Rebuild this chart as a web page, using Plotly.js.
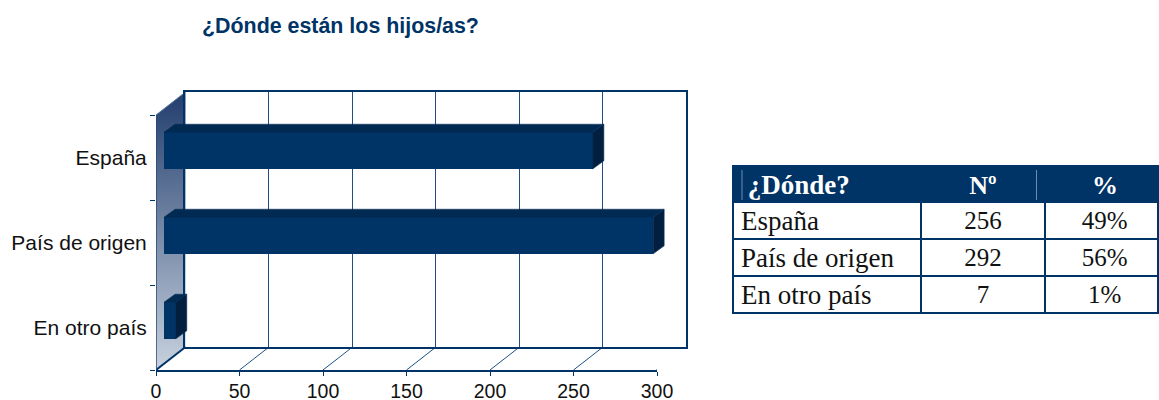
<!DOCTYPE html>
<html><head><meta charset="utf-8">
<script src="https://cdn.plot.ly/plotly-3.0.1.min.js"></script>
<style>html,body{margin:0;padding:0;background:#fff}</style></head>
<body><div id="chart" style="width:1159px;height:400px"></div>
<script>
const categories = ["España", "País de origen", "En otro país"];
const counts = [256, 292, 7];
const percents = ["49%", "56%", "1%"];
const xTicks = [0, 50, 100, 150, 200, 250, 300];
const tableHeader = ["¿Dónde?", "Nº", "%"];
const chartTitle = "¿Dónde están los hijos/as?";

const NAVY = "#003366", W = 1159, H = 400;
const dx = p => [p[0] / W, p[1] / W];
const dy = p => [1 - p[1] / H, 1 - p[0] / H];
const yIdx = categories.map((_, i) => i);
const yRange = [2.5, -0.5];
const PXU = 501 / 300, BXU = 502.5 / 300, PYU = 85;   // px per data unit
const wallDx = 29.5 / PXU, wallDy = 23 / PYU;
const barDx = 11 / BXU, barDy = 8 / PYU, barW = 36.6 / PYU;

const traces = [];
const guide = {type:"scatter", mode:"lines", xaxis:"x", yaxis:"y", cliponaxis:false, hoverinfo:"skip", showlegend:false};
// left wall
traces.push(Object.assign({}, guide, {
  x:[0, wallDx, wallDx, 0, 0], y:[-0.5, -0.5 - wallDy, 2.5 - wallDy, 2.5, -0.5],
  fill:"toself", line:{width:0, color:"rgba(0,0,0,0)"},
  fillgradient:{type:"vertical", colorscale:[[0,"#c8d2df"],[1,"#223e6e"]]}}));
// floor diagonals
const dgx = [], dgy = [];
xTicks.slice(1, -1).forEach(v => { dgx.push(v, v + wallDx, null); dgy.push(2.5, 2.5 - wallDy, null); });
traces.push(Object.assign({}, guide, {x:dgx, y:dgy, line:{color:"#1d4f86", width:1}}));
// thick floor edges
[0, 300].forEach(v => traces.push(Object.assign({}, guide, {
  x:[v, v + wallDx], y:[2.5, 2.5 - wallDy], line:{color:NAVY, width:2}})));
// wall top and front edges
traces.push(Object.assign({}, guide, {x:[0, wallDx], y:[-0.5, -0.5 - wallDy], line:{color:"#5b7aa3", width:1}}));
traces.push(Object.assign({}, guide, {x:[0, 0], y:[-0.5, 2.5], line:{color:"#2a4a78", width:1.5}}));
// back wall (only drives grid + frame)
traces.push({type:"scatter", mode:"none", xaxis:"x2", yaxis:"y2", x:[0], y:[0], hoverinfo:"skip", showlegend:false});
// bar front faces
traces.push({type:"bar", orientation:"h", xaxis:"x3", yaxis:"y3", x:counts, y:yIdx, width:barW,
  marker:{color:NAVY, line:{width:0}}, hoverinfo:"skip", showlegend:false});
// bar top and side faces
counts.forEach((v, i) => {
  const t = i - barW / 2, b = i + barW / 2;
  traces.push({type:"scatter", mode:"lines", xaxis:"x3", yaxis:"y3", cliponaxis:false, fill:"toself",
    x:[0, v, v + barDx, barDx, 0], y:[t, t, t - barDy, t - barDy, t],
    fillcolor:"#012a52", line:{color:"#012a52", width:0.5}, hoverinfo:"skip", showlegend:false});
  traces.push({type:"scatter", mode:"lines", xaxis:"x3", yaxis:"y3", cliponaxis:false, fill:"toself",
    x:[v, v + barDx, v + barDx, v, v], y:[t, t - barDy, b - barDy, b, t],
    fillcolor:"#021f3f", line:{color:"#06305c", width:0.7}, hoverinfo:"skip", showlegend:false});
});
// table
const serif = "Liberation Serif, serif";
traces.push({type:"table", domain:{x:dx([733, 1159]), y:dy([166, 316])},
  columnwidth:[188, 125, 113],
  header:{values:tableHeader, height:36, align:["left","center","center"],
    prefix:["\u00a0", "", "\u00a0"],
    fill:{color:NAVY}, line:{color:NAVY, width:2},
    font:{family:serif, size:[27, 26, 26], color:"#ffffff", weight:700}},
  cells:{values:[categories, counts, percents], height:37, align:["left","center","center"],
    prefix:["", "", "\u00a0"],
    fill:{color:"#ffffff"}, line:{color:NAVY, width:2},
    font:{family:serif, size:[27, 25, 25], color:"#111111"}}});

const hidden = {showgrid:false, zeroline:false, showticklabels:false, ticks:""};
const layout = {
  width:W, height:H, autosize:false, margin:{l:0, r:0, t:0, b:0},
  paper_bgcolor:"#ffffff", plot_bgcolor:"rgba(0,0,0,0)", showlegend:false, bargap:0,
  title:{text:"<b>" + chartTitle + "</b>", x:202 / W, xanchor:"left", xref:"paper",
    y:1 - 26 / H, yanchor:"middle", yref:"container",
    font:{family:"Liberation Sans, Arial, sans-serif", size:21.4, color:NAVY}},
  font:{family:"Liberation Sans, Arial, sans-serif", color:"#111111", size:19.5},
  xaxis:{domain:dx([156, 657]), range:[0, 300], tickvals:xTicks, ticks:"outside", ticklen:4, tickcolor:NAVY,
    tickwidth:1, showgrid:false, zeroline:false, showline:true, linecolor:NAVY, linewidth:2, ticklabelstandoff:-1,
    tickfont:{size:19.5}, anchor:"y"},
  yaxis:{domain:dy([92, 370]), range:[2.5, -0.5 - wallDy], tickvals:yIdx, ticktext:categories, ticks:"outside", ticklen:0,
    showgrid:false, zeroline:false, showline:false, ticklabelstandoff:4,
    tickfont:{size:21}, anchor:"x",
    minor:{tickmode:"array", tickvals:[-0.5, 0.5, 1.5, 2.5], ticks:"outside", ticklen:5, tickcolor:NAVY, tickwidth:1, showgrid:false}},
  xaxis2:{domain:dx([185, 686]), range:[0, 300], tickvals:xTicks, showgrid:true, gridcolor:"#1d4f86", gridwidth:1,
    zeroline:false, showticklabels:false, ticks:"", showline:true, mirror:true, linecolor:NAVY, linewidth:2, anchor:"y2"},
  yaxis2:{domain:dy([92, 347]), range:yRange, showgrid:false, zeroline:false, showticklabels:false, ticks:"",
    showline:true, mirror:true, linecolor:NAVY, linewidth:2, anchor:"x2"},
  xaxis3:Object.assign({domain:dx([164, 666.5]), range:[0, 300], anchor:"y3"}, hidden),
  yaxis3:Object.assign({domain:dy([108, 363]), range:yRange, anchor:"x3"}, hidden),
  shapes:[
    {type:"line", xref:"paper", yref:"paper", x0:1036.5/W, x1:1036.5/W, y0:1-170/H, y1:1-200/H, line:{color:"#6f8cb0", width:1}},
    {type:"line", xref:"paper", yref:"paper", x0:742/W, x1:742/W, y0:1-170/H, y1:1-200/H, line:{color:"#6f8cb0", width:1}}
  ]
};
Plotly.newPlot("chart", traces, layout, {displayModeBar:false, staticPlot:true});
</script></body></html>
